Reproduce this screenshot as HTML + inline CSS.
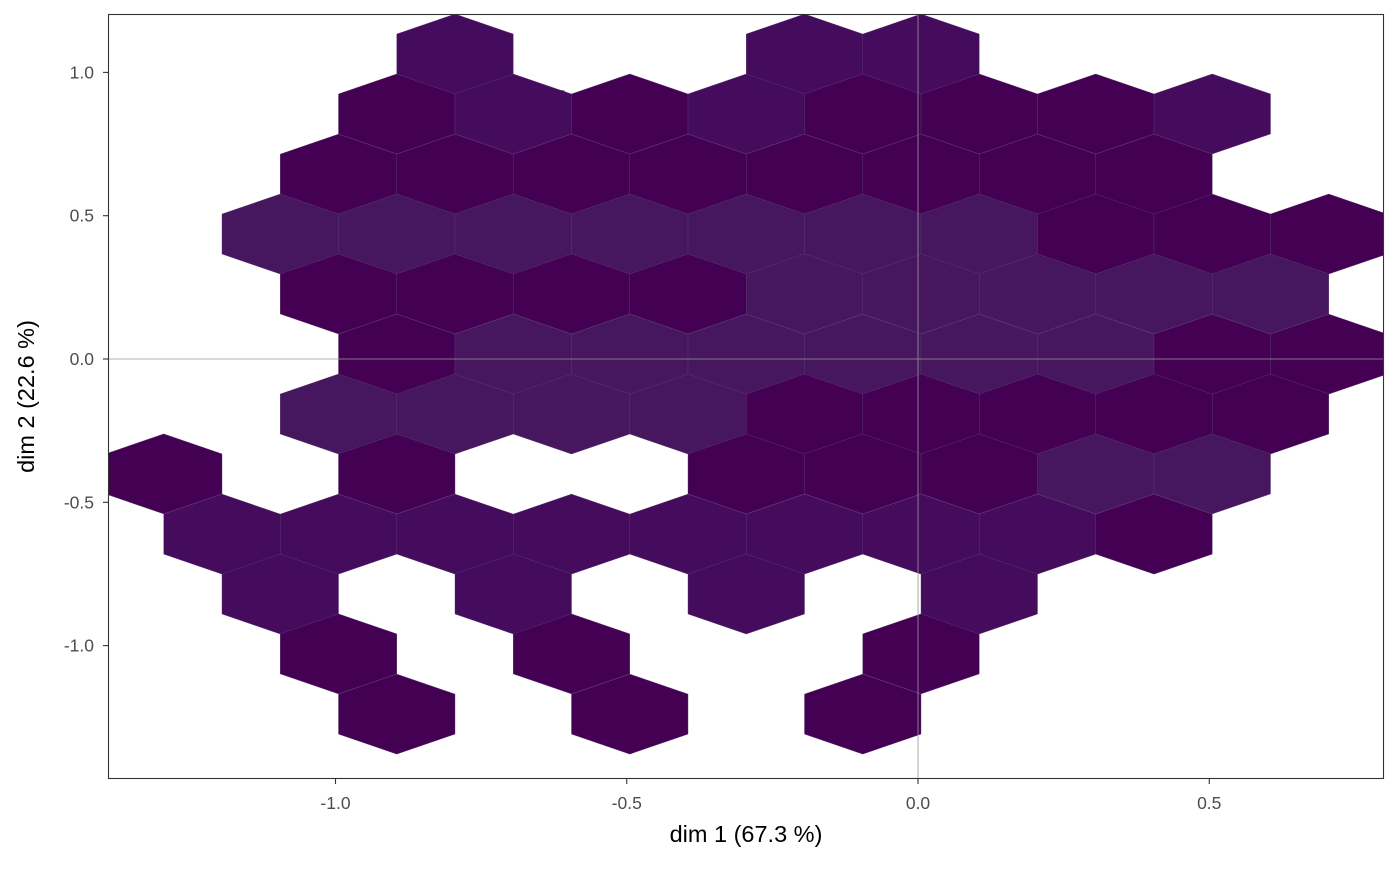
<!DOCTYPE html>
<html><head><meta charset="utf-8"><style>
body{margin:0;background:#fff;font-family:"Liberation Sans",sans-serif}
</style></head><body>
<svg id="chart" width="1400" height="865" xmlns="http://www.w3.org/2000/svg"></svg>
<script>
const rowY=[1.064,0.855,0.645,0.436,0.227,0.017,-0.192,-0.401,-0.611,-0.820,-1.029,-1.239];
const rowXs=[
[-0.8,-0.2,0.0],
[-0.9,-0.7,-0.5,-0.3,-0.1,0.1,0.3,0.5],
[-1.0,-0.8,-0.6,-0.4,-0.2,0.0,0.2,0.4],
[-1.1,-0.9,-0.7,-0.5,-0.3,-0.1,0.1,0.3,0.5,0.7],
[-1.0,-0.8,-0.6,-0.4,-0.2,0.0,0.2,0.4,0.6],
[-0.9,-0.7,-0.5,-0.3,-0.1,0.1,0.3,0.5,0.7],
[-1.0,-0.8,-0.6,-0.4,-0.2,0.0,0.2,0.4,0.6],
[-1.3,-0.9,-0.3,-0.1,0.1,0.3,0.5],
[-1.2,-1.0,-0.8,-0.6,-0.4,-0.2,0.0,0.2,0.4],
[-1.1,-0.7,-0.3,0.1],
[-1.0,-0.6,0.0],
[-0.9,-0.5,-0.1]];
const rowCounts=[
[2,2,2],
[1,2,1,2,1,1,1,2],
[1,1,1,1,1,1,1,1],
[3,3,3,3,3,3,3,1,1,1],
[1,1,1,1,3,3,3,3,3],
[1,3,3,3,3,3,3,1,1],
[3,3,3,3,1,1,1,1,1],
[1,1,1,1,1,3,3],
[2,2,2,2,2,2,2,2,1],
[2,2,2,2],
[1,1,1],
[1,1,1]];
const pointsX=[-0.99,-0.61,0.32,-0.2];
const pointsY=[0.84,0.93,0.97,-0.83];
const xTicks=[-1.0,-0.5,0.0,0.5];
const yTicks=[1.0,0.5,0.0,-0.5,-1.0];
const L=108,R=1384,T=14,B=779;
const sx=v=>918+v*582.5, sy=v=>359-v*286.6;
const colors={1:'#440154',2:'#450b5d',3:'#46165f'};
const NS='http://www.w3.org/2000/svg';
const svg=document.getElementById('chart');
function mk(t,a,p){const e=document.createElementNS(NS,t);for(const k in a)e.setAttribute(k,a[k]);(p||svg).appendChild(e);return e;}
const clip=mk('clipPath',{id:'pc'});mk('rect',{x:L,y:T,width:R-L,height:B-T},clip);
const g=mk('g',{'clip-path':'url(#pc)'});
pointsX.forEach((px,i)=>{const c=mk('circle',{cx:sx(px),cy:sy(pointsY[i]),r:2.5,fill:'#4a7fa0'},g);

});
const hw=0.1, hh=0.1396;
rowY.forEach((y,r)=>{rowXs[r].forEach((x,i)=>{
 const cx=sx(x)+3,cy=sy(y),w=sx(x+hw)-sx(x),h=sy(y)-sy(y+hh);
 const pts=[[0,-h],[w,-h/2],[w,h/2],[0,h],[-w,h/2],[-w,-h/2]].map(p=>(cx+p[0])+','+(cy+p[1])).join(' ');
 const e=mk('polygon',{points:pts,fill:colors[rowCounts[r][i]],stroke:'#5a3a6e','stroke-width':0.4},g);
 
 
});});
const zx=mk('line',{x1:sx(0),x2:sx(0),y1:T,y2:B,stroke:'#9a9a9a','stroke-width':0.8});

const zy=mk('line',{x1:L,x2:R,y1:sy(0),y2:sy(0),stroke:'#9a9a9a','stroke-width':0.8});

const fr=mk('rect',{x:L+0.5,y:T+0.5,width:R-L-1,height:B-T-1,fill:'none',stroke:'#333','stroke-width':1.1});

xTicks.forEach(v=>{mk('line',{x1:sx(v),x2:sx(v),y1:B,y2:B+5,stroke:'#333','stroke-width':1.1});
 const t=mk('text',{x:sx(v),y:B+30,'text-anchor':'middle','font-size':17.5,fill:'#4d4d4d'});t.textContent=v.toFixed(1);
 });
yTicks.forEach(v=>{mk('line',{x1:L-5,x2:L,y1:sy(v),y2:sy(v),stroke:'#333','stroke-width':1.1});
 const t=mk('text',{x:L-14,y:sy(v)+6,'text-anchor':'end','font-size':17.5,fill:'#4d4d4d'});t.textContent=v.toFixed(1);
 });
const xt=mk('text',{x:(L+R)/2,y:842,'text-anchor':'middle','font-size':23.5,fill:'#000'});xt.textContent='dim 1 (67.3 %)';

const yt=mk('text',{x:0,y:0,'text-anchor':'middle','font-size':23.5,fill:'#000',transform:`translate(34,${(T+B)/2}) rotate(-90)`});yt.textContent='dim 2 (22.6 %)';

</script>
</body></html>
